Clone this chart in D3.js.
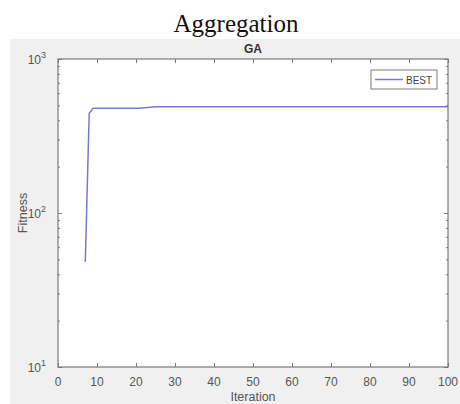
<!DOCTYPE html>
<html>
<head>
<meta charset="utf-8">
<script src="https://cdn.jsdelivr.net/npm/d3@7"></script>
<style>
  body { margin: 0; background: #fff; }
  svg { display: block; }
</style>
</head>
<body>
<div id="chart"></div>
<script>
// data
const iterations = [7, 8, 9, 10, 15, 21, 23, 25, 30, 40, 50, 60, 70, 80, 90, 100];
const best = [48, 445, 478, 478, 478, 478, 484, 490, 490, 490, 490, 490, 490, 490, 490, 490];
const xTicks = [0, 10, 20, 30, 40, 50, 60, 70, 80, 90, 100];
const yDecades = [10, 100, 1000];

const width = 460, height = 404;
const pLeft = 58, pRight = 448, pTop = 59, pBottom = 367;

const svg = d3.select("#chart").append("svg")
  .attr("width", width)
  .attr("height", height);

// figure background (matlab grey)
svg.append("rect")
  .attr("x", 10).attr("y", 39)
  .attr("width", width - 10).attr("height", height - 39)
  .attr("fill", "#f0f0f0");

// title above
svg.append("text")
  .attr("x", 236).attr("y", 32)
  .attr("text-anchor", "middle")
  .style("font-family", "Liberation Serif, Times New Roman, serif")
  .style("font-size", "25px")
  .attr("fill", "#111")
  .text("Aggregation");

const x = d3.scaleLinear().domain([0, 100]).range([pLeft, pRight]);
const y = d3.scaleLog().domain([10, 1000]).range([pBottom, pTop]);

svg.append("rect")
  .attr("x", pLeft).attr("y", pTop)
  .attr("width", pRight - pLeft).attr("height", pBottom - pTop)
  .attr("fill", "#fff");

// minor log ticks
let minor = [];
yDecades.slice(0, -1).forEach(d => { for (let k = 2; k <= 9; k++) minor.push(d * k); });

const axisColor = "#7a7a7a";
const font = "Liberation Sans, Arial, sans-serif";

function styleAxis(g) {
  g.select(".domain").remove();
  g.selectAll(".tick line").attr("stroke", axisColor);
  g.selectAll("text").remove();
}

svg.append("g").attr("transform", `translate(0,${pBottom})`)
  .call(d3.axisBottom(x).tickValues(xTicks).tickSize(-4)).call(styleAxis);
svg.append("g").attr("transform", `translate(0,${pTop})`)
  .call(d3.axisTop(x).tickValues(xTicks).tickSize(-4)).call(styleAxis);
svg.append("g").attr("transform", `translate(${pLeft},0)`)
  .call(d3.axisLeft(y).tickValues(yDecades).tickSize(-4)).call(styleAxis);
svg.append("g").attr("transform", `translate(${pRight},0)`)
  .call(d3.axisRight(y).tickValues(yDecades).tickSize(-4)).call(styleAxis);
svg.append("g").attr("transform", `translate(${pLeft},0)`)
  .call(d3.axisLeft(y).tickValues(minor).tickSize(-2)).call(styleAxis);
svg.append("g").attr("transform", `translate(${pRight},0)`)
  .call(d3.axisRight(y).tickValues(minor).tickSize(-2)).call(styleAxis);

// box
svg.append("rect")
  .attr("x", pLeft).attr("y", pTop)
  .attr("width", pRight - pLeft).attr("height", pBottom - pTop)
  .attr("fill", "none")
  .attr("stroke", axisColor)
  .attr("stroke-width", 1.2);

// x tick labels
svg.append("g").selectAll("text")
  .data(xTicks).enter().append("text")
  .attr("x", d => x(d))
  .attr("y", pBottom + 19)
  .attr("text-anchor", "middle")
  .style("font-family", font)
  .style("font-size", "12px")
  .attr("fill", "#555")
  .text(d => d);

// y tick labels with superscript
const yl = svg.append("g").selectAll("text")
  .data(yDecades).enter().append("text")
  .attr("x", pLeft - 12)
  .attr("y", d => y(d) + 5)
  .attr("text-anchor", "end")
  .style("font-family", font)
  .style("font-size", "12px")
  .attr("fill", "#555");
yl.append("tspan").text("10");
yl.append("tspan").attr("dy", -6).style("font-size", "9px").text(d => Math.round(Math.log10(d)));

// subplot title
svg.append("text")
  .attr("x", 253).attr("y", 53)
  .attr("text-anchor", "middle")
  .style("font-family", font)
  .style("font-size", "12px")
  .style("font-weight", "bold")
  .attr("fill", "#333")
  .text("GA");

// axis labels
svg.append("text")
  .attr("x", 253).attr("y", 401)
  .attr("text-anchor", "middle")
  .style("font-family", font)
  .style("font-size", "12.5px")
  .attr("fill", "#555")
  .text("Iteration");

svg.append("text")
  .attr("transform", `translate(27,${(pTop + pBottom) / 2}) rotate(-90)`)
  .attr("text-anchor", "middle")
  .style("font-family", font)
  .style("font-size", "12.5px")
  .attr("fill", "#555")
  .text("Fitness");

// line
const lineColor = "#7878cc";
const line = d3.line()
  .x((d, i) => x(iterations[i]))
  .y(d => y(d));

svg.append("path")
  .datum(best)
  .attr("d", line)
  .attr("fill", "none")
  .attr("stroke", lineColor)
  .attr("stroke-width", 1.5);

// legend
svg.append("rect")
  .attr("x", 371).attr("y", 70)
  .attr("width", 66).attr("height", 19)
  .attr("fill", "#fff")
  .attr("stroke", axisColor);
svg.append("line")
  .attr("x1", 375).attr("x2", 403)
  .attr("y1", 79.5).attr("y2", 79.5)
  .attr("stroke", lineColor)
  .attr("stroke-width", 1.5);
svg.append("text")
  .attr("x", 406).attr("y", 84)
  .style("font-family", font)
  .style("font-size", "10px")
  .attr("fill", "#444")
  .text("BEST");
</script>
</body>
</html>
